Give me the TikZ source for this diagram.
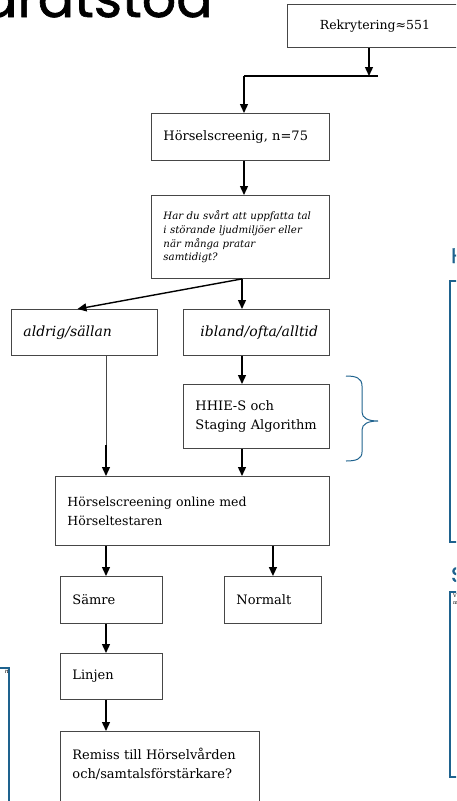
\documentclass[tikz,border=0pt]{standalone}
\usepackage{fontspec}
\setmainfont{DejaVu Serif}
\newfontfamily\titlefont[FakeBold=1.2]{Poppins}
\usetikzlibrary{arrows.meta}
\definecolor{boxgray}{RGB}{70,70,70}
\definecolor{slideblue}{RGB}{30,98,142}
\tikzset{>={Triangle[length=9pt,width=8pt]}}
\tikzset{
  box/.style={draw=boxgray, line width=0.9pt, anchor=north west, inner xsep=12pt, inner ysep=0pt, align=left, font=\fontsize{13}{19}\selectfont},
  answer/.style={font=\itshape\fontsize{14}{19}\selectfont},
  flow/.style={->, line width=1.4pt},
  frame/.style={draw=slideblue, line width=1.8pt},
}
\newcommand{\qfont}{\itshape\fontsize{10.2}{13.6}\selectfont}

\begin{document}
\begin{tikzpicture}[x=1pt,y=-1pt]
  \useasboundingbox (0,0) rectangle (456,801);
  \clip (0,0) rectangle (456,801);
  % slide title and side panels
  \node[anchor=base east, inner sep=0pt, font=\titlefont\fontsize{54}{54}\selectfont] (title) at (213,17) {aratstöd};
  \node[anchor=base west, inner sep=0pt, text=slideblue, font=\titlefont\fontsize{21}{21}\selectfont] (headH) at (451,263) {H};
  \node[anchor=base west, inner sep=0pt, text=slideblue, font=\titlefont\fontsize{21}{21}\selectfont] (headS) at (451,582) {S};
  \draw[frame] (450,281) rectangle (480,542);
  \draw[frame] (450,592) rectangle (480,777);
  \draw[frame] (-20,668) rectangle (9,830);
  \node[anchor=north west, inner sep=0pt, align=left, font=\fontsize{5}{6.5}\selectfont] (noteS) at (453,594) {V\\m};
  \node[anchor=east, inner sep=0pt, font=\itshape\fontsize{6}{6}\selectfont] (noteL) at (9,672) {n};
  % brace next to the questionnaire
  \draw[slideblue, line width=1pt] (346,376) .. controls (356,376) and (362,378) .. (362,386) -- (362,412)
    .. controls (362,418) and (368,421) .. (378,421) .. controls (368,421) and (362,424) .. (362,430)
    -- (362,452) .. controls (362,459) and (356,461) .. (346,461);
  % flow boxes
  \node[box, minimum width=175pt, minimum height=43pt, text width=151pt, align=center, font=\fontsize{12.5}{19}\selectfont] (rek) at (287,4) {Rekrytering≈551};
  \node[box, minimum width=178pt, minimum height=47pt, text width=154pt] (hs) at (151,113) {Hörselscreenig, n=75};
  \node[box, minimum width=178pt, minimum height=83pt, text width=154pt, font=\qfont] (q) at (151,195)
    {Har du svårt att uppfatta tal\\i störande ljudmiljöer eller\\när många pratar\\samtidigt?};
  \node[box, answer, minimum width=146pt, minimum height=46pt, text width=122pt] (ald) at (11,309) {aldrig/sällan};
  \node[box, answer, minimum width=146pt, minimum height=46pt, inner xsep=17pt, text width=112pt] (ibl) at (183,309) {ibland/ofta/alltid};
  \node[box, minimum width=146pt, minimum height=64pt, text width=122pt] (hh) at (183,384) {HHIE-S och\\Staging Algorithm};
  \node[box, minimum width=274pt, minimum height=69pt, text width=250pt, font=\fontsize{12.5}{19}\selectfont] (onl) at (55,476) {Hörselscreening online med\\Hörseltestaren};
  \node[box, minimum width=102pt, minimum height=47pt, text width=78pt] (sam) at (60,576) {Sämre};
  \node[box, minimum width=97pt, minimum height=47pt, text width=73pt] (nor) at (224,576) {Normalt};
  \node[box, minimum width=102pt, minimum height=46pt, text width=78pt] (lin) at (60,653) {Linjen};
  \node[box, minimum width=199pt, minimum height=88pt, text width=175pt] (rem) at (60,731) {Remiss till Hörselvården\\och/samtalsförstärkare?\\\strut};
  % connectors
  \coordinate (jn) at (369,76);
  \coordinate (jnE) at (378,76);
  \coordinate (jnW) at (244,76);
  \coordinate (colR) at (242,0);
  \coordinate (colL) at (106,0);
  \coordinate (aldDrop) at (106,445);
  \draw[flow] (rek.south -| jn) -- (jn);
  \draw[line width=1.4pt] (jnE) -- (jnW);
  \draw[flow] (jnW) -- (jnW |- hs.north);
  \draw[flow] (hs.south -| jnW) -- (q.north -| jnW);
  \draw[flow] (q.south -| colR) -- ([xshift=-7pt]ald.north);
  \draw[flow] (q.south -| colR) -- (ibl.north -| colR);
  \draw[flow] (ibl.south -| colR) -- (hh.north -| colR);
  \draw[flow] (hh.south -| colR) -- (onl.north -| colR);
  \draw[boxgray, line width=0.9pt] (ald.south -| colL) -- (aldDrop);
  \draw[flow] (aldDrop) -- (onl.north -| colL);
  \draw[flow] (onl.south -| colL) -- (sam.north -| colL);
  \draw[flow] (onl.south -| nor.north) -- (nor.north);
  \draw[flow] (sam.south -| colL) -- (lin.north -| colL);
  \draw[flow] (lin.south -| colL) -- (rem.north -| colL);
\end{tikzpicture}
\end{document}
